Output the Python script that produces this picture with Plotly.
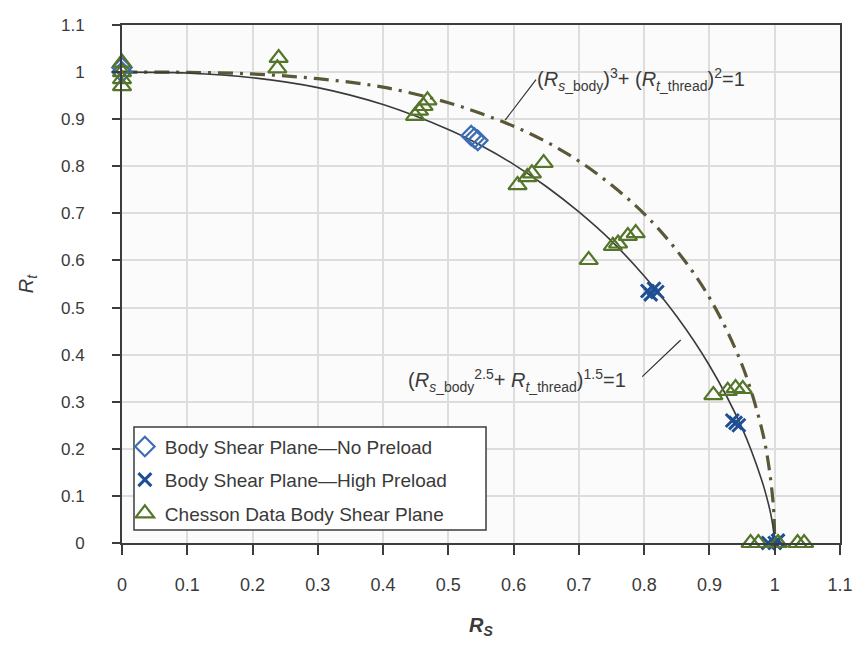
import plotly.graph_objects as go

# ---- data ----
no_preload_rs = [0.0, 0.0, 0.535, 0.540, 0.545]
no_preload_rt = [1.0, 1.01, 0.865, 0.860, 0.855]

high_preload_rs = [0.805, 0.815, 0.810, 0.820, 0.935, 0.940, 0.945, 0.990, 1.000, 1.005]
high_preload_rt = [0.535, 0.540, 0.528, 0.533, 0.260, 0.255, 0.250, 0.0, 0.0, 0.005]

chesson_rs = [0.0, 0.0, 0.0, 0.0, 0.240, 0.238,
              0.449, 0.455, 0.462, 0.468,
              0.606, 0.621, 0.628, 0.646,
              0.715,
              0.752, 0.760, 0.775, 0.787,
              0.906, 0.928, 0.940, 0.951,
              0.963, 0.975, 1.005, 1.035, 1.045]
chesson_rt = [1.02, 1.0, 0.985, 0.97, 1.03, 1.008,
              0.907, 0.918, 0.928, 0.940,
              0.760, 0.777, 0.785, 0.807,
              0.601,
              0.631, 0.636, 0.652, 0.658,
              0.314, 0.323, 0.329, 0.327,
              0.0, 0.0, 0.0, 0.0, 0.0]

# solid curve (Rs^2.5 + Rt^1.5 = 1)
solid_rs = [0.0, 0.1, 0.2, 0.3, 0.4, 0.5, 0.55, 0.6, 0.65, 0.7, 0.75, 0.8, 0.85, 0.9, 0.95, 0.98, 0.99, 0.995, 0.999, 1.0]
solid_rt = [1.0, 0.998, 0.988, 0.967, 0.931, 0.878, 0.844, 0.804, 0.757, 0.703, 0.641, 0.567, 0.481, 0.377, 0.244, 0.134, 0.085, 0.054, 0.018, 0.0]

# dash-dot curve (Rs^3 + Rt^2 = 1)
dashdot_rs = [0.0, 0.1, 0.2, 0.3, 0.4, 0.5, 0.55, 0.6, 0.65, 0.7, 0.75, 0.8, 0.85, 0.9, 0.95, 0.98, 0.99, 0.998, 1.0]
dashdot_rt = [1.0, 0.9995, 0.996, 0.986, 0.968, 0.935, 0.912, 0.885, 0.852, 0.811, 0.760, 0.699, 0.621, 0.521, 0.378, 0.243, 0.172, 0.077, 0.0]

tick_vals = [0, 0.1, 0.2, 0.3, 0.4, 0.5, 0.6, 0.7, 0.8, 0.9, 1.0, 1.1]
tick_text = ["0", "0.1", "0.2", "0.3", "0.4", "0.5", "0.6", "0.7", "0.8", "0.9", "1", "1.1"]

AXIS = "#3c3c3c"
GRID = "#dddddd"
TXT = "#3a3a3a"
GREEN = "#54752a"
BLUE = "#3d6db4"
DBLUE = "#1e4f92"
FONT = "Liberation Sans, Arial"

fig = go.Figure()

fig.add_trace(go.Scatter(x=dashdot_rs, y=dashdot_rt, mode="lines",
                         line=dict(color="#5b5838", width=3.2, dash="15px,7px,3px,7px", shape="spline"),
                         showlegend=False, hoverinfo="skip", cliponaxis=False))
fig.add_trace(go.Scatter(x=solid_rs, y=solid_rt, mode="lines",
                         line=dict(color="#3a3a3a", width=1.6, shape="spline"),
                         showlegend=False, hoverinfo="skip", cliponaxis=False))

fig.add_trace(go.Scatter(x=no_preload_rs, y=no_preload_rt, mode="markers",
                         name="Body Shear Plane\u2014No Preload", legend="legend",
                         marker=dict(symbol="diamond-open", size=15, color=BLUE, line=dict(width=2.2)),
                         cliponaxis=False))
fig.add_trace(go.Scatter(x=high_preload_rs, y=high_preload_rt, mode="markers",
                         name="Body Shear Plane\u2014High Preload", legend="legend2",
                         marker=dict(symbol="x-thin-open", size=13, color=DBLUE, line=dict(width=3, color=DBLUE)),
                         cliponaxis=False))
fig.add_trace(go.Scatter(x=chesson_rs, y=chesson_rt, mode="markers",
                         name="Chesson Data Body Shear Plane", legend="legend3",
                         marker=dict(symbol="triangle-up-open", size=16, color=GREEN, line=dict(width=2.2)),
                         cliponaxis=False))

axis_common = dict(
    range=[0, 1.1], tickvals=tick_vals, ticktext=tick_text,
    showline=True, linecolor=AXIS, linewidth=2, mirror=True,
    ticks="outside", tickcolor=AXIS, tickwidth=2,
    showgrid=True, gridcolor=GRID, gridwidth=1.5, zeroline=False,
    automargin=False,
)

fig.update_xaxes(**axis_common, ticklen=10, ticklabelstandoff=14,
                 tickfont=dict(family="Liberation Sans Narrow, Arial Narrow, Liberation Sans, Arial", size=18, color=TXT),
                 title=dict(text="<b><i>R<sub>S</sub></i></b>", standoff=24,
                            font=dict(family=FONT, size=20, color=TXT)))
fig.update_yaxes(**axis_common, ticklen=8, ticklabelstandoff=24,
                 tickfont=dict(family=FONT, size=17, color=TXT),
                 title=dict(text="<i>R<sub>t</sub></i>", standoff=22,
                            font=dict(family=FONT, size=20, color=TXT)))

ann_font = dict(family=FONT, size=20, color=TXT)
annotations = [
    dict(x=0.795, y=0.985, xref="x", yref="y", showarrow=False, font=ann_font,
         text="(<i>R</i><sub><i>s</i>_body</sub>)<sup>3</sup>+ (<i>R</i><sub><i>t</i>_thread</sub>)<sup>2</sup>=1"),
    dict(x=0.587, y=0.898, xref="x", yref="y", showarrow=True, text="", ax=32, ay=-42,
         arrowhead=0, arrowwidth=1.2, arrowcolor="#333333", standoff=0),
    dict(x=0.605, y=0.345, xref="x", yref="y", showarrow=False, font=ann_font,
         text="(<i>R</i><sub><i>s</i>_body</sub><sup>2.5</sup>+ <i>R</i><sub><i>t</i>_thread</sub>)<sup>1.5</sup>=1"),
    dict(x=0.856, y=0.431, xref="x", yref="y", showarrow=True, text="", ax=-40, ay=38,
         arrowhead=0, arrowwidth=1.2, arrowcolor="#333333", standoff=0),
]

# legend frame (one box holding the three legend rows)
shapes = [dict(type="rect", xref="paper", yref="paper", x0=0.0167, x1=0.507, y0=0.025, y1=0.224,
               fillcolor="white", line=dict(color=AXIS, width=1.5), layer="above")]

leg_common = dict(xanchor="left", yanchor="middle", bgcolor="rgba(0,0,0,0)", borderwidth=0,
                  itemwidth=30, font=dict(family=FONT, size=19, color=TXT))

fig.update_layout(
    width=856, height=639,
    margin=dict(l=114, r=24, t=17, b=104),
    paper_bgcolor="white", plot_bgcolor="#fbfbfb",
    font=dict(family=FONT, color=TXT),
    legend=dict(x=0.004, y=0.186, **leg_common),
    legend2=dict(x=0.004, y=0.122, **leg_common),
    legend3=dict(x=0.004, y=0.057, **leg_common),
    annotations=annotations,
    shapes=shapes,
)

fig.write_html("out.html")
